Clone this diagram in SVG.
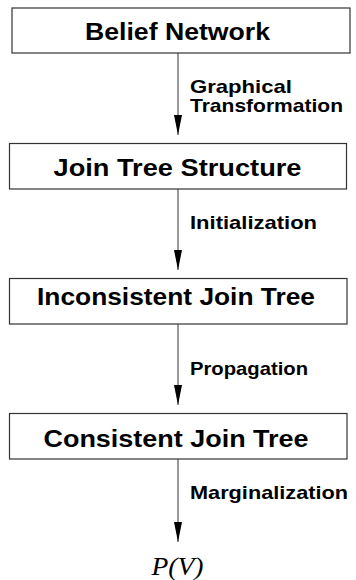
<svg xmlns="http://www.w3.org/2000/svg" width="356" height="580" viewBox="0 0 356 580">
<style>
.box{fill:#fff;stroke:#333;stroke-width:1.2}
.title{font-family:"Liberation Sans",Arial,sans-serif;font-weight:bold;font-size:23px;fill:#000}
.lbl{font-family:"Liberation Sans",Arial,sans-serif;font-weight:bold;font-size:19px;fill:#000}
.edge{stroke:#555;stroke-width:1.2;fill:none}
.math{font-family:"Liberation Serif","Times New Roman",serif;font-style:italic;font-size:25px;fill:#000}
</style>
<defs>
<marker id="ah" markerUnits="userSpaceOnUse" viewBox="0 0 20 8" refX="20" refY="4" markerWidth="20" markerHeight="8" orient="auto">
<path d="M0,0 L20,4 L0,8 z" fill="#000"/>
</marker>
</defs>
<rect width="356" height="580" fill="#fff"/>
<g id="connectors">
<line class="edge" x1="178" y1="53" x2="178" y2="135" marker-end="url(#ah)"/>
<line class="edge" x1="178" y1="189" x2="178" y2="270" marker-end="url(#ah)"/>
<line class="edge" x1="178" y1="324" x2="178" y2="405" marker-end="url(#ah)"/>
<line class="edge" x1="178" y1="459" x2="178" y2="542" marker-end="url(#ah)"/>
<text class="lbl" x="190" y="92.8" textLength="102" lengthAdjust="spacingAndGlyphs">Graphical</text>
<text class="lbl" x="190" y="112" textLength="153" lengthAdjust="spacingAndGlyphs">Transformation</text>
<text class="lbl" x="190" y="228.5" textLength="127" lengthAdjust="spacingAndGlyphs">Initialization</text>
<text class="lbl" x="190" y="375" textLength="118" lengthAdjust="spacingAndGlyphs">Propagation</text>
<text class="lbl" x="190" y="498.5" textLength="158" lengthAdjust="spacingAndGlyphs">Marginalization</text>
</g>
<g id="belief-network">
<rect class="box" x="12" y="8" width="338" height="45"/>
<text class="title" x="85" y="39.5" textLength="185" lengthAdjust="spacingAndGlyphs">Belief Network</text>
</g>
<g id="join-tree-structure">
<rect class="box" x="9.5" y="143.5" width="337" height="45.5"/>
<text class="title" x="53.5" y="176" textLength="248" lengthAdjust="spacingAndGlyphs">Join Tree Structure</text>
</g>
<g id="inconsistent-join-tree">
<rect class="box" x="9.5" y="278.5" width="337.5" height="45.5"/>
<text class="title" x="37" y="305" textLength="278" lengthAdjust="spacingAndGlyphs">Inconsistent Join Tree</text>
</g>
<g id="consistent-join-tree">
<rect class="box" x="9.5" y="413.5" width="337.5" height="45.5"/>
<text class="title" x="43.5" y="446.5" textLength="265" lengthAdjust="spacingAndGlyphs">Consistent Join Tree</text>
</g>
<g id="pv">
<text class="math" x="151.5" y="574.5" textLength="52" lengthAdjust="spacingAndGlyphs">P(V)</text>
</g>
</svg>
